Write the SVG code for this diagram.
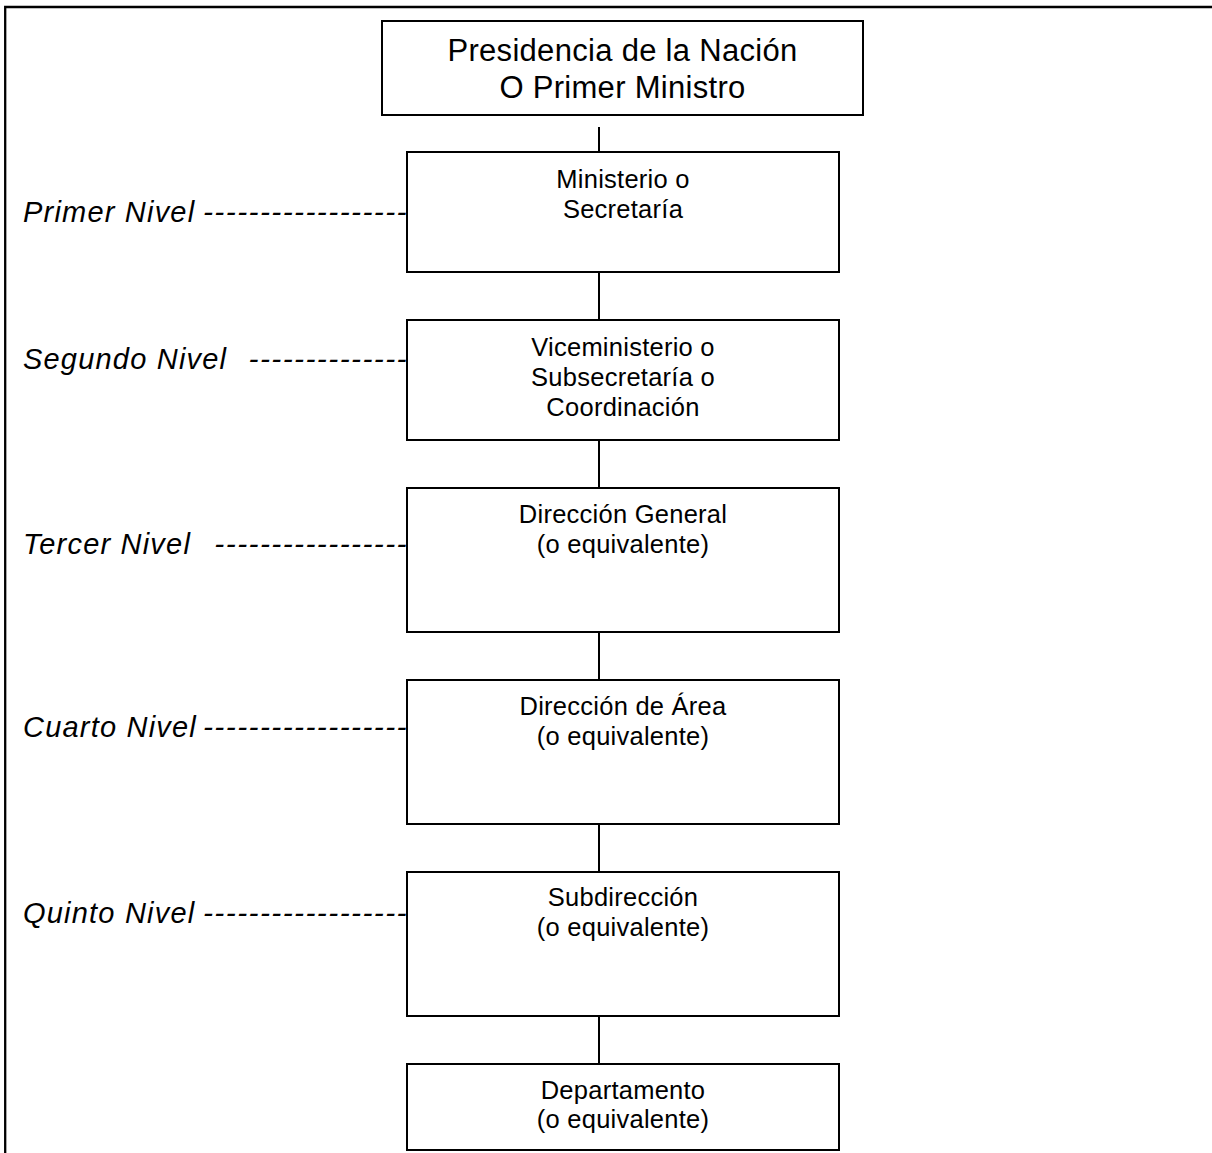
<svg xmlns="http://www.w3.org/2000/svg" width="1212" height="1153" viewBox="0 0 1212 1153">
<style>
.box{fill:#fff;stroke:#000;stroke-width:2}
.t{font-family:"Liberation Sans",Arial,sans-serif;font-size:25.5px;letter-spacing:0.25px;text-anchor:middle;fill:#000}
.big{font-size:31px;letter-spacing:0.3px}
.lab{font-family:"Liberation Sans",Arial,sans-serif;font-size:29px;font-style:italic;letter-spacing:1.2px;fill:#000}
.dash{text-anchor:end;letter-spacing:1.4px;font-size:30px}
.conn{stroke:#000;stroke-width:2;fill:none}
.frame{stroke:#000;stroke-width:2.3;fill:none}
</style>
<rect width="1212" height="1153" fill="#fff"/>
<path class="frame" d="M5.2,1153 V7 H1212"/>
<g id="connectors">
<line class="conn" x1="599" y1="127" x2="599" y2="152"/>
<line class="conn" x1="599" y1="272" x2="599" y2="320"/>
<line class="conn" x1="599" y1="440" x2="599" y2="488"/>
<line class="conn" x1="599" y1="632" x2="599" y2="680"/>
<line class="conn" x1="599" y1="824" x2="599" y2="872"/>
<line class="conn" x1="599" y1="1016" x2="599" y2="1064"/>
</g>
<g id="presidencia">
<rect class="box" x="382" y="21" width="481" height="94"/>
<text class="t big" x="622.5" y="61">Presidencia de la Nación</text>
<text class="t big" x="622.5" y="98">O Primer Ministro</text>
</g>
<g id="ministerio">
<rect class="box" x="407" y="152" width="432" height="120"/>
<text class="t" x="623" y="188">Ministerio o</text>
<text class="t" x="623" y="218">Secretaría</text>
</g>
<g id="viceministerio">
<rect class="box" x="407" y="320" width="432" height="120"/>
<text class="t" x="623" y="356">Viceministerio o</text>
<text class="t" x="623" y="386">Subsecretaría o</text>
<text class="t" x="623" y="416">Coordinación</text>
</g>
<g id="direccion-general">
<rect class="box" x="407" y="488" width="432" height="144"/>
<text class="t" x="623" y="523">Dirección General</text>
<text class="t" x="623" y="553">(o equivalente)</text>
</g>
<g id="direccion-area">
<rect class="box" x="407" y="680" width="432" height="144"/>
<text class="t" x="623" y="715">Dirección de Área</text>
<text class="t" x="623" y="745">(o equivalente)</text>
</g>
<g id="subdireccion">
<rect class="box" x="407" y="872" width="432" height="144"/>
<text class="t" x="623" y="906">Subdirección</text>
<text class="t" x="623" y="936">(o equivalente)</text>
</g>
<g id="departamento">
<rect class="box" x="407" y="1064" width="432" height="86"/>
<text class="t" x="623" y="1099">Departamento</text>
<text class="t" x="623" y="1128">(o equivalente)</text>
</g>
<g id="labels">
<text class="lab" x="23" y="222">Primer Nivel</text>
<text class="lab dash" x="408" y="222">------------------</text>
<text class="lab" x="23" y="369">Segundo Nivel</text>
<text class="lab dash" x="408" y="369">--------------</text>
<text class="lab" x="23" y="554">Tercer Nivel</text>
<text class="lab dash" x="408" y="554">-----------------</text>
<text class="lab" x="23" y="737">Cuarto Nivel</text>
<text class="lab dash" x="408" y="737">------------------</text>
<text class="lab" x="23" y="923">Quinto Nivel</text>
<text class="lab dash" x="408" y="923">------------------</text>
</g>
</svg>
